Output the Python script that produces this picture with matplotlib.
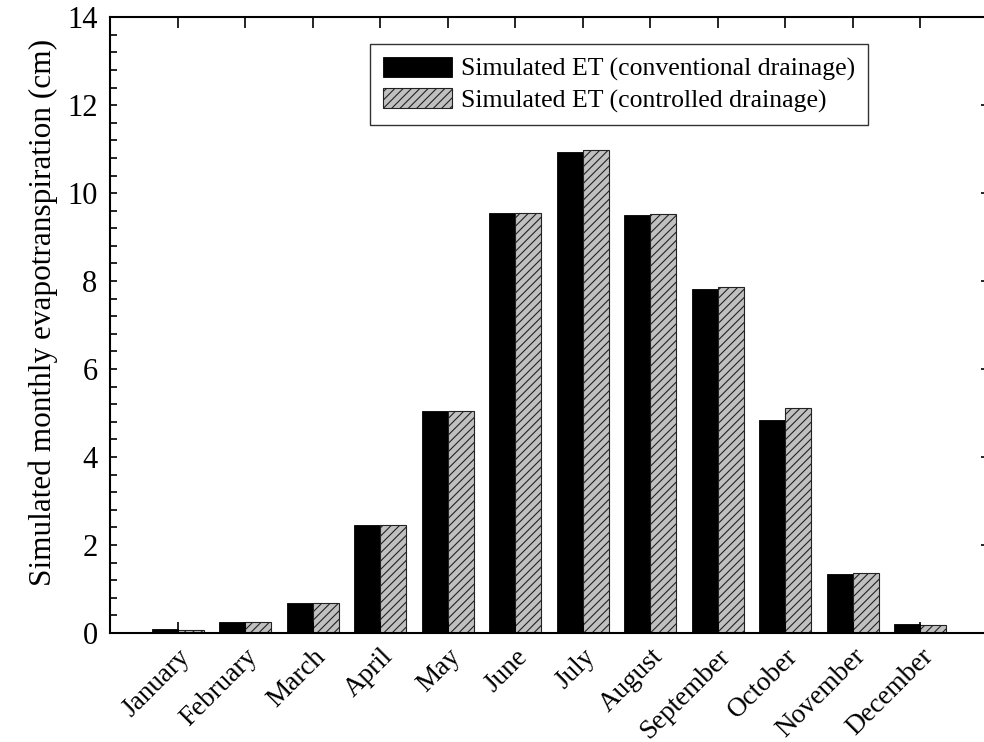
import matplotlib.pyplot as plt
import matplotlib.transforms as mtransforms
import numpy as np
from matplotlib.ticker import MultipleLocator

plt.rcParams['font.family'] = ['Liberation Serif', 'DejaVu Serif']
plt.rcParams['hatch.linewidth'] = 0.8

months = ['January', 'February', 'March', 'April', 'May', 'June',
          'July', 'August', 'September', 'October', 'November', 'December']
et_conventional = [0.08, 0.26, 0.69, 2.45, 5.05, 9.55, 10.93, 9.50, 7.82, 4.85, 1.34, 0.20]
et_controlled = [0.07, 0.26, 0.69, 2.45, 5.05, 9.55, 10.97, 9.53, 7.87, 5.11, 1.36, 0.18]

fig = plt.figure(figsize=(9.84, 7.42), dpi=100)
ax = fig.add_axes([0.1118, 0.1469, 0.892, 0.830])

x = np.arange(len(months))
w = 0.385
ax.bar(x - w / 2, et_conventional, w, color='black', edgecolor='black',
       linewidth=0.6, label='Simulated ET (conventional drainage)')
ax.bar(x + w / 2, et_controlled, w, color='#c0c0c0', edgecolor='#222222',
       linewidth=0.8, hatch='////', label='Simulated ET (controlled drainage)')

ax.set_xlim(-1, 12)
ax.set_ylim(0, 14)
ax.set_xticks(x)
ax.set_xticklabels(months, rotation=45, ha='right', rotation_mode='anchor',
                   fontsize=19.5)
# nudge month labels a few pixels left
shift = mtransforms.ScaledTranslation(-4 / 100, 1 / 100, fig.dpi_scale_trans)
for lab in ax.get_xticklabels():
    lab.set_transform(lab.get_transform() + shift)

ax.yaxis.set_major_locator(MultipleLocator(2))
ax.yaxis.set_minor_locator(MultipleLocator(0.4))
ax.tick_params(axis='x', direction='in', top=True, length=8, width=1.2, pad=8)
ax.tick_params(axis='y', which='major', direction='in', right=True, length=5,
               width=1.2, labelsize=22, pad=9)
ax.tick_params(axis='y', which='minor', direction='in', right=False, length=5,
               width=1.2)
for s in ax.spines.values():
    s.set_linewidth(1.5)

ax.set_ylabel('Simulated monthly evapotranspiration (cm)', fontsize=22.5)
ax.yaxis.set_label_coords(-0.0595, 0.52)

leg = ax.legend(loc='upper left', bbox_to_anchor=(0.296, 0.956), fontsize=18.5,
                frameon=True, fancybox=False, edgecolor='black',
                borderaxespad=0, handlelength=2.7, handleheight=0.8,
                borderpad=0.5, labelspacing=0.28, handletextpad=0.35)
leg.get_frame().set_linewidth(1.0)

fig.savefig('out.png', dpi=100)
